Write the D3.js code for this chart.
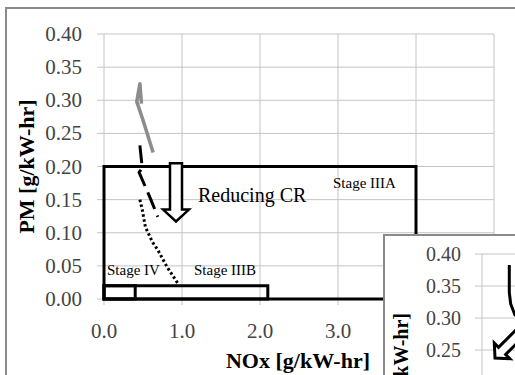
<!DOCTYPE html>
<html><head><meta charset="utf-8">
<script src="https://cdn.jsdelivr.net/npm/d3@7"></script>
<style>
html,body{margin:0;padding:0;background:#fff;}
svg{display:block;}
svg text{font-family:"Liberation Serif","Times New Roman","DejaVu Serif",serif;}
</style></head>
<body>
<svg id="c" width="515" height="375" font-family="Liberation Serif, Times New Roman, DejaVu Serif, serif"></svg>
<script>
// ---- data ----
const xTicks = [0, 1, 2, 3, 4, 5];
const yTicks = [0, 0.05, 0.10, 0.15, 0.20, 0.25, 0.30, 0.35, 0.40];
// gray curve
const grayNOx = [0.48, 0.46, 0.42, 0.50, 0.63];
const grayPM  = [0.295, 0.325, 0.298, 0.270, 0.221];
// black dashed curve
const dashNOx = [0.46, 0.49, 0.45, 0.59, 0.69];
const dashPM  = [0.232, 0.198, 0.191, 0.153, 0.124];
// dotted curve
const dotNOx = [0.46, 0.49, 0.53, 0.62, 0.69, 0.81, 0.95];
const dotPM  = [0.150, 0.135, 0.109, 0.086, 0.074, 0.048, 0.023];
// emission limit boxes [NOx, PM]
const stageNames = ["Stage IIIA", "Stage IIIB", "Stage IV"];
const stageNOx = [4.0, 2.1, 0.4];
const stagePM  = [0.20, 0.02, 0.02];
// inset
const insetYTicks = [0.20, 0.25, 0.30, 0.35, 0.40];
const insetNOx = [0.39, 0.39, 0.41, 0.47, 0.55];
const insetPM  = [0.383, 0.340, 0.322, 0.305, 0.298];

const FONT = "Liberation Serif, Times New Roman, DejaVu Serif, serif";
const svg = d3.select("#c");
const x = d3.scaleLinear().domain([0, 5]).range([104, 494]);
const y = d3.scaleLinear().domain([0, 0.4]).range([299, 34]);

// outer frame
svg.append("rect").attr("x", 6).attr("y", 8).attr("width", 540).attr("height", 400)
  .attr("fill", "#fff").attr("stroke", "#8a8a8a").attr("stroke-width", 2);

// gridlines
const g = svg.append("g");
g.selectAll(".hg").data(yTicks).join("line")
  .attr("x1", x(0) - 7).attr("x2", x(5))
  .attr("y1", d => y(d)).attr("y2", d => y(d))
  .attr("stroke", "#c4c4c4").attr("stroke-width", 1);
g.selectAll(".vg").data(xTicks).join("line")
  .attr("x1", d => x(d)).attr("x2", d => x(d))
  .attr("y1", y(0.4)).attr("y2", y(0) + 6)
  .attr("stroke", "#c4c4c4").attr("stroke-width", 1);

// tick labels
g.selectAll(".yl").data(yTicks).join("text")
  .attr("x", 82).attr("y", d => y(d) + 7).attr("font-family", FONT)
  .attr("text-anchor", "end").attr("font-size", 21).attr("fill", "#444")
  .text(d => d.toFixed(2));
g.selectAll(".xl").data(xTicks).join("text")
  .attr("x", d => x(d)).attr("y", 338).attr("font-family", FONT)
  .attr("text-anchor", "middle").attr("font-size", 21).attr("fill", "#444")
  .text(d => d.toFixed(1));

// axis titles
svg.append("text").attr("x", 298).attr("y", 368).attr("text-anchor", "middle").attr("font-family", FONT)
  .attr("font-size", 22).attr("font-weight", "bold").text("NOx [g/kW-hr]");
svg.append("text").attr("transform", "translate(34," + ((y(0) + y(0.4)) / 2) + ") rotate(-90)")
  .attr("text-anchor", "middle").attr("font-size", 22).attr("font-weight", "bold").attr("font-family", FONT)
  .text("PM [g/kW-hr]");

// stage boxes
svg.selectAll(".box").data(stageNOx).join("rect")
  .attr("x", x(0)).attr("y", (d, i) => y(stagePM[i]))
  .attr("width", d => x(d) - x(0)).attr("height", (d, i) => y(0) - y(stagePM[i]))
  .attr("fill", "none").attr("stroke", "#000").attr("stroke-width", 3);

// stage labels
svg.append("text").attr("x", 333).attr("y", 188).attr("font-size", 15).attr("font-family", FONT).text(stageNames[0]);
svg.append("text").attr("x", 194).attr("y", 275).attr("font-size", 15).attr("font-family", FONT).text(stageNames[1]);
svg.append("text").attr("x", 107).attr("y", 275).attr("font-size", 15).attr("font-family", FONT).text(stageNames[2]);

// curves
const line = (xs, ys, sx, sy) => d3.line()(xs.map((v, i) => [sx(v), sy(ys[i])]));
svg.append("path").attr("d", line(grayNOx, grayPM, x, y))
  .attr("fill", "none").attr("stroke", "#8c8c8c").attr("stroke-width", 3.5).attr("stroke-linejoin", "round");
svg.append("path").attr("d", line(dashNOx, dashPM, x, y))
  .attr("fill", "none").attr("stroke", "#000").attr("stroke-width", 3).attr("stroke-dasharray", "18,7");
svg.append("path").attr("d", line(dotNOx, dotPM, x, y))
  .attr("fill", "none").attr("stroke", "#000").attr("stroke-width", 3).attr("stroke-dasharray", "2.5,2.5");

// hollow arrow "Reducing CR"
const ax = 0.923, aw = 0.077, hw = 0.165;
const arrowPts = [[ax - aw, 0.205], [ax + aw, 0.205], [ax + aw, 0.135], [ax + hw, 0.135],
  [ax, 0.117], [ax - hw, 0.135], [ax - aw, 0.135]];
svg.append("polygon").attr("points", arrowPts.map(p => [x(p[0]), y(p[1])].join(",")).join(" "))
  .attr("fill", "#fff").attr("stroke", "#000").attr("stroke-width", 2.5).attr("stroke-linejoin", "miter");
svg.append("text").attr("x", 198).attr("y", 202).attr("font-size", 20).attr("font-family", FONT).text("Reducing CR");

// ---- inset chart ----
const ins = svg.append("g");
ins.append("rect").attr("x", 384).attr("y", 235).attr("width", 200).attr("height", 200)
  .attr("fill", "#fff").attr("stroke", "#8a8a8a").attr("stroke-width", 2);
const ix = d3.scaleLinear().domain([0, 5]).range([482, 832]);
const iy = d3.scaleLinear().domain([0, 0.4]).range([510, 254]);
ins.selectAll(".ihg").data(insetYTicks).join("line")
  .attr("x1", 475).attr("x2", 520).attr("y1", d => iy(d)).attr("y2", d => iy(d))
  .attr("stroke", "#c4c4c4").attr("stroke-width", 1);
ins.append("line").attr("x1", ix(0)).attr("x2", ix(0)).attr("y1", iy(0.4)).attr("y2", 380)
  .attr("stroke", "#c4c4c4").attr("stroke-width", 1);
ins.selectAll(".iyl").data(insetYTicks).join("text")
  .attr("x", 461).attr("y", d => iy(d) + 7).attr("font-family", FONT)
  .attr("text-anchor", "end").attr("font-size", 20).attr("fill", "#444")
  .text(d => d.toFixed(2));
ins.append("text").attr("transform", "translate(408,313) rotate(-90)").attr("font-family", FONT)
  .attr("text-anchor", "end").attr("font-size", 20).attr("font-weight", "bold")
  .text("PM [g/kW-hr]");
ins.append("path").attr("d", line(insetNOx, insetPM, ix, iy))
  .attr("fill", "none").attr("stroke", "#000").attr("stroke-width", 3);
// diagonal hollow arrow
ins.append("polygon")
  .attr("points", "0,0 -11,-10 -5,-10 -5,-60 5,-60 5,-10 11,-10")
  .attr("transform", "translate(495,358) rotate(45)")
  .attr("fill", "#fff").attr("stroke", "#000").attr("stroke-width", 3);
</script>
</body></html>
